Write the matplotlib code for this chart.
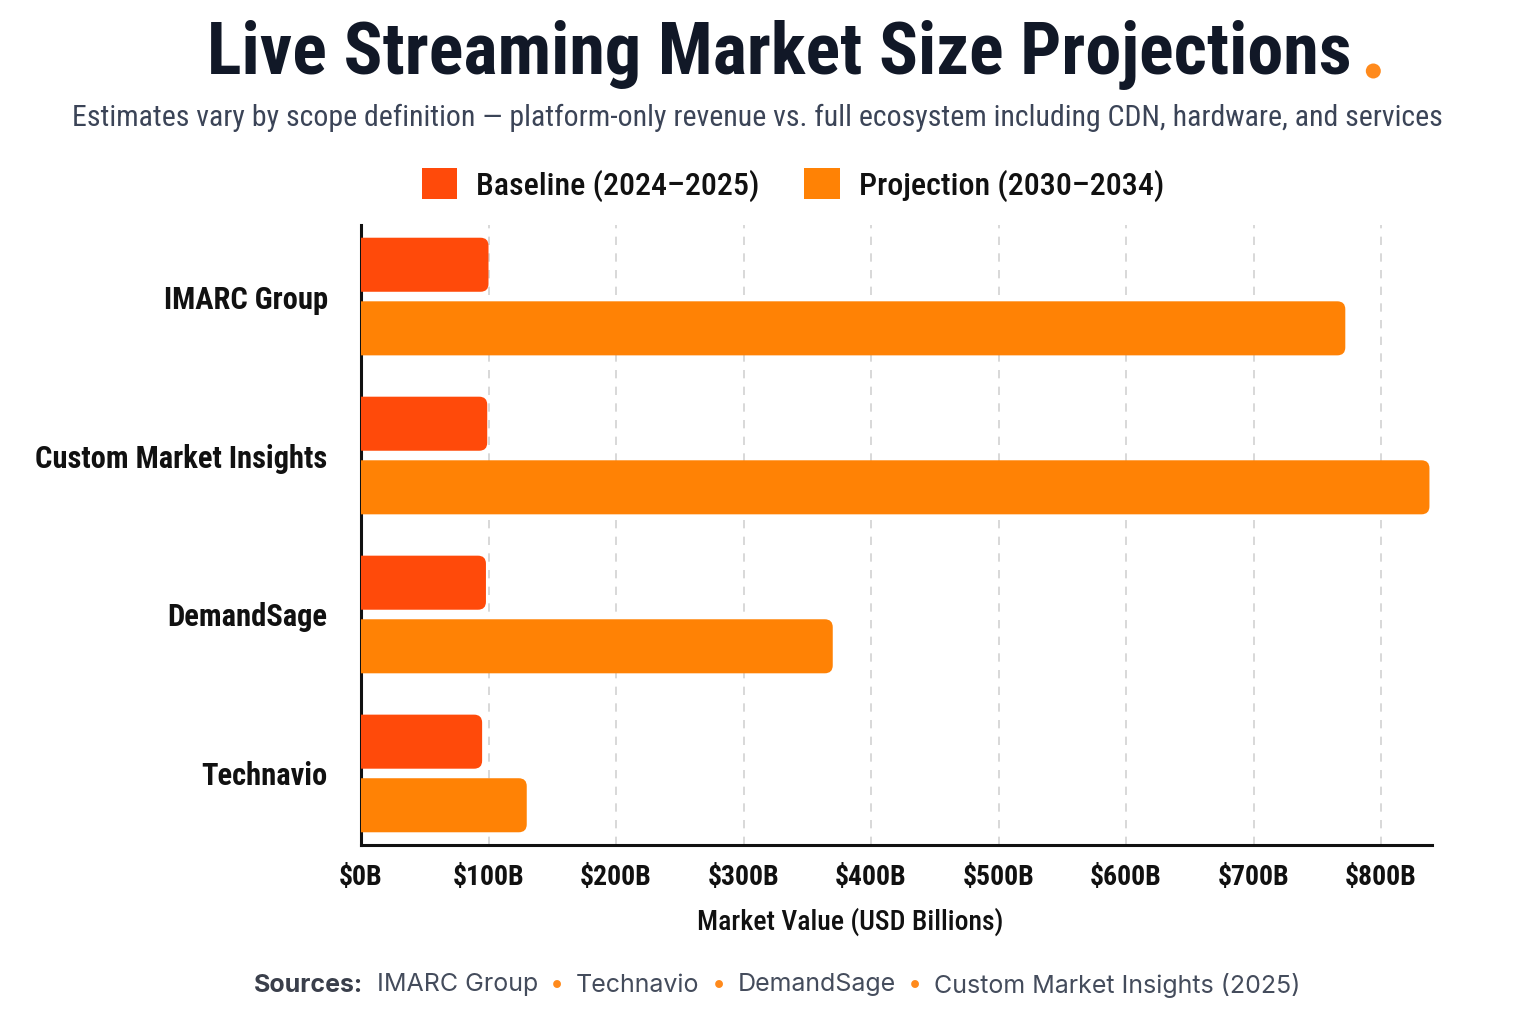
import matplotlib
matplotlib.use("Agg")
import matplotlib.pyplot as plt
from matplotlib import font_manager
from matplotlib.patches import Patch, PathPatch, Circle
from matplotlib.path import Path
import numpy as np

# data
sources = ["IMARC Group", "Custom Market Insights", "DemandSage", "Technavio"]
baseline = [100, 99, 98, 95]
projection = [772, 838, 370, 130]
xticks = [0, 100, 200, 300, 400, 500, 600, 700, 800]
xtick_labels = ["$0B", "$100B", "$200B", "$300B", "$400B", "$500B", "$600B", "$700B", "$800B"]

names = {f.name for f in font_manager.fontManager.ttflist}
narrow = "DejaVu Sans"
for cand in ["Roboto Condensed", "Liberation Sans Narrow", "DejaVu Sans Condensed", "Roboto"]:
    if cand in names:
        narrow = cand
        break
plain = "Inter" if "Inter" in names else "DejaVu Sans"

plt.rcParams["font.family"] = [narrow, "DejaVu Sans"]

C_BASE = "#FF4A0A"
C_PROJ = "#FF8205"
DARK = "#111827"

fig = plt.figure(figsize=(15.36, 10.24), dpi=100)
ax = fig.add_axes([361 / 1536, 1 - 845 / 1024, (1432 - 361) / 1536, (845 - 225) / 1024])

y = np.arange(len(sources))
h = 0.34
off = 0.2
b1 = ax.barh(y - off, baseline, height=h, color=C_BASE, zorder=3)
b2 = ax.barh(y + off, projection, height=h, color=C_PROJ, zorder=3)

ax.set_xlim(0, 840)
ax.set_ylim(3.45, -0.45)

# round the right end of each bar
sx = (1432 - 361) / 840
sy = (845 - 225) / 3.9
r_px = 8
rx, ry = r_px / sx, r_px / sy
for bars, col in [(b1, C_BASE), (b2, C_PROJ)]:
    for b in bars:
        bx, by, bw, bh = b.get_x(), b.get_y(), b.get_width(), b.get_height()
        b.set_visible(False)
        verts = [(bx, by), (bx + bw - rx, by), (bx + bw, by), (bx + bw, by + ry),
                 (bx + bw, by + bh - ry), (bx + bw, by + bh), (bx + bw - rx, by + bh),
                 (bx, by + bh), (bx, by)]
        codes = [Path.MOVETO, Path.LINETO, Path.CURVE3, Path.CURVE3, Path.LINETO,
                 Path.CURVE3, Path.CURVE3, Path.LINETO, Path.CLOSEPOLY]
        ax.add_patch(PathPatch(Path(verts, codes), fc=col, ec="none", zorder=3))

ax.set_xticks(xticks)
ax.set_xticklabels(xtick_labels, fontsize=20, fontweight="bold", color="#111111")
ax.set_yticks(y)
ax.set_yticklabels(sources, fontsize=22, fontweight="semibold", color="#111111")
ax.tick_params(axis="both", length=0)
ax.tick_params(axis="y", pad=24)
ax.tick_params(axis="x", pad=14)
ax.grid(axis="x", color="#d2d2d2", linestyle=(0, (5, 5)), linewidth=1.2, zorder=0)
ax.set_axisbelow(True)
for s in ["top", "right"]:
    ax.spines[s].set_visible(False)
for s in ["left", "bottom"]:
    ax.spines[s].set_linewidth(2.2)
    ax.spines[s].set_color("#111111")

ax.set_xlabel("Market Value (USD Billions)", fontsize=20, fontweight="medium", color="#111111")
ax.xaxis.set_label_coords((850 - 361) / (1432 - 361), -(922 - 845) / (845 - 225))
ax.xaxis.label.set_va("center")

# title + subtitle
t = fig.text(779 / 1536, 1 - 55 / 1024, "Live Streaming Market Size Projections",
             ha="center", va="center", fontsize=52, fontweight="bold", color=DARK)
fig.text(757 / 1536, 1 - 118 / 1024,
         "Estimates vary by scope definition \u2014 platform-only revenue vs. full ecosystem including CDN, hardware, and services",
         ha="center", va="center", fontsize=21.5, color="#3b4457")

fig.canvas.draw()
r = fig.canvas.get_renderer()
bb = t.get_window_extent(r)
dot = Circle(((bb.x1 + 22) / 100, (1024 - 71) / 100), 0.075, transform=fig.dpi_scale_trans,
             fc="#FF8A1C", ec="none")
fig.patches.append(dot)

# legend
handles = [Patch(fc=C_BASE, ec="none", label="Baseline (2024\u20132025)"),
           Patch(fc=C_PROJ, ec="none", label="Projection (2030\u20132034)")]
fig.legend(handles=handles, loc="center", bbox_to_anchor=(793 / 1536, 1 - 185 / 1024), ncol=2,
           frameon=False, prop={"size": 23, "weight": "medium"}, handlelength=1.1, handleheight=1.1,
           handletextpad=0.6, columnspacing=1.4, labelcolor="#111111")

# footer
parts = [("Sources:", "bold", "#3a3f4b", 0), ("IMARC Group", "normal", "#444c5c", 14),
         ("\u2022", "normal", "#FF8A1C", 12), ("Technavio", "normal", "#444c5c", 12),
         ("\u2022", "normal", "#FF8A1C", 12), ("DemandSage", "normal", "#444c5c", 12),
         ("\u2022", "normal", "#FF8A1C", 12), ("Custom Market Insights (2025)", "normal", "#444c5c", 12)]
texts = []
for s, w, c, g in parts:
    tt = fig.text(0, 1 - 985 / 1024, s, fontsize=18, fontweight=w, color=c, va="center",
                  family=[plain, "DejaVu Sans"])
    texts.append((tt, g))
widths = [tt.get_window_extent(r).width for tt, g in texts]
total = sum(widths) + sum(g for _, g in texts)
x = 777 - total / 2
for (tt, g), wd in zip(texts, widths):
    x += g
    tt.set_x(x / 1536)
    x += wd

fig.savefig("out.png", dpi=100, facecolor="white")
